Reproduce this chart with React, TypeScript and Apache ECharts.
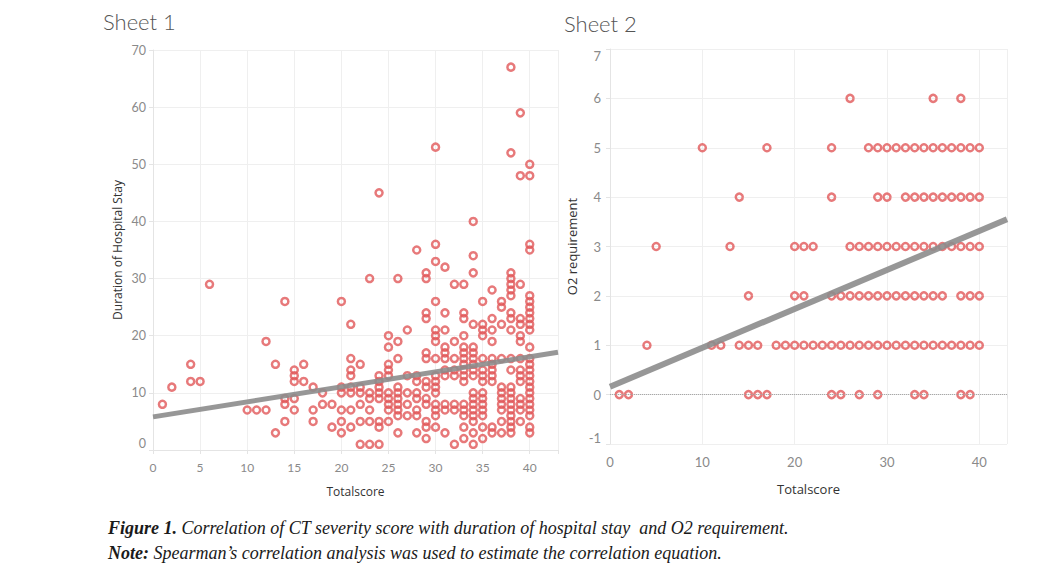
import React, { useEffect, useRef } from "react";
import * as echarts from "echarts";

// Sheet 1: Duration of hospital stay by Totalscore (score -> stay values)
const stayByScore: [number, number[]][] = [
  [1, [8]],
  [2, [11]],
  [4, [15, 12]],
  [5, [12]],
  [6, [29]],
  [10, [7]],
  [11, [7]],
  [12, [19, 7]],
  [13, [15, 3]],
  [14, [26, 9, 8, 5]],
  [15, [14, 13, 12, 9, 7]],
  [16, [15, 12]],
  [17, [11, 7, 5]],
  [18, [10, 8]],
  [19, [8, 4]],
  [20, [26, 11, 10, 7, 5, 3]],
  [21, [22, 16, 14, 13, 11, 10, 7, 4]],
  [22, [15, 11, 10, 8, 5, 1]],
  [23, [30, 10, 9, 7, 5, 1]],
  [24, [45, 13, 12, 11, 10, 9, 5, 4, 1]],
  [25, [20, 18, 15, 14, 13, 10, 9, 8, 7, 5]],
  [26, [30, 19, 16, 11, 10, 9, 8, 7, 6, 3]],
  [27, [21, 13, 10, 8, 6]],
  [28, [35, 13, 12, 10, 9, 7, 6, 3]],
  [29, [31, 30, 24, 23, 17, 16, 12, 11, 9, 8, 5, 4, 2]],
  [30, [53, 36, 33, 26, 21, 20, 19, 16, 13, 12, 11, 10, 8, 7, 6, 4]],
  [31, [32, 24, 21, 18, 17, 16, 14, 13, 8, 7, 3]],
  [32, [29, 19, 16, 14, 13, 8, 7, 1]],
  [33, [29, 24, 23, 20, 18, 17, 16, 15, 14, 13, 12, 8, 7, 6, 4, 2]],
  [34, [40, 34, 31, 22, 18, 17, 16, 15, 14, 13, 10, 9, 8, 7, 6, 5, 3, 1]],
  [35, [26, 22, 21, 20, 16, 14, 13, 12, 10, 9, 8, 7, 6, 4, 2]],
  [36, [28, 23, 21, 19, 16, 15, 14, 13, 12, 4, 3]],
  [37, [26, 25, 22, 16, 11, 10, 9, 8, 7, 5, 3]],
  [38, [67, 52, 31, 30, 29, 28, 27, 24, 23, 21, 16, 14, 11, 10, 9, 8, 7, 6, 5, 4, 3]],
  [39, [59, 48, 29, 23, 22, 20, 19, 16, 14, 13, 12, 9, 8, 7, 5]],
  [40, [50, 48, 36, 35, 27, 26, 25, 24, 23, 22, 21, 18, 16, 15, 14, 13, 12, 11, 10, 9, 8, 7, 6, 4, 3]],
];
const stayTrend: number[][] = [[0, 5.8], [43, 17.1]];

// Sheet 2: scores observed at each O2 requirement level
const o2Level0 = [1, 2, 15, 16, 17, 24, 25, 27, 29, 33, 34, 38, 39];
const o2Level1 = [4, 11, 12, 14, 15, 16, 18, 19, 20, 21, 22, 23, 24, 25, 26, 27, 28, 29, 30, 31, 32, 33, 34, 35, 36, 37, 38, 39, 40];
const o2Level2 = [15, 20, 21, 24, 25, 26, 27, 28, 29, 30, 31, 32, 33, 34, 35, 36, 38, 39, 40];
const o2Level3 = [5, 13, 20, 21, 22, 26, 27, 28, 29, 30, 31, 32, 33, 34, 35, 36, 37, 38, 39, 40];
const o2Level4 = [14, 24, 29, 30, 32, 33, 34, 35, 36, 37, 38, 39, 40];
const o2Level5 = [10, 17, 24, 28, 29, 30, 31, 32, 33, 34, 35, 36, 37, 38, 39, 40];
const o2Level6 = [26, 35, 38];
const o2Trend: number[][] = [[0, 0.16], [43, 3.55]];

const RED = "#e15759";
const LABEL = "#8a8a8a";
const GRID = "#efefef";
const FONT = "Lato, 'Open Sans', sans-serif";

export default function App() {
  const ref = useRef<HTMLDivElement>(null);

  useEffect(() => {
    if (!ref.current) return;
    const chart = echarts.init(ref.current, undefined, { renderer: "svg" });

    const stayPoints = stayByScore.flatMap(([x, ys]) => ys.map((y) => [x, y]));
    const o2Rows = [o2Level0, o2Level1, o2Level2, o2Level3, o2Level4, o2Level5, o2Level6];
    const o2Points = o2Rows.flatMap((xs, level) => xs.map((x) => [x, level]));

    const marker = {
      symbol: "circle",
      symbolSize: 7,
      itemStyle: { color: "rgba(255,255,255,0)", borderColor: RED, borderWidth: 2.5 },
    };

    const baseAxis = (fontSize: number) => ({
      axisLine: { show: true, lineStyle: { color: "#e4e4e4", width: 1 } },
      axisTick: { show: true, length: 4, lineStyle: { color: "#e4e4e4" } },
      splitLine: { show: true, lineStyle: { color: GRID, width: 1 } },
      axisLabel: { color: LABEL, fontSize, fontFamily: FONT },
      nameTextStyle: { color: "#333", fontSize: fontSize, fontFamily: "'Open Sans', sans-serif" },
    });

    const hideExtra = (step: number) => (v: number) =>
      Math.abs(v / step - Math.round(v / step)) < 1e-6 ? String(v) : "";

    const captionFont = "italic 18px 'Liberation Serif', 'Times New Roman', serif";
    const boldRich = {
      b: { fontWeight: "bold", fontStyle: "italic", fontSize: 18, fontFamily: "'Liberation Serif', serif", fill: "#1a1a1a" },
    };

    chart.setOption({
      animation: false,
      title: [
        {
          text: "Sheet 1",
          left: 103,
          top: 10,
          padding: 0,
          textStyle: { color: "#555", fontSize: 22, fontWeight: 300, fontFamily: FONT },
        },
        {
          text: "Sheet 2",
          left: 564,
          top: 12,
          padding: 0,
          textStyle: { color: "#555", fontSize: 22, fontWeight: 300, fontFamily: FONT },
        },
      ],
      grid: [
        { left: 153, top: 50, width: 405, height: 400, containLabel: false, outerBoundsMode: "none" },
        { left: 610, top: 49, width: 397, height: 395, containLabel: false, outerBoundsMode: "none" },
      ],
      xAxis: [
        {
          ...baseAxis(12),
          type: "value",
          gridIndex: 0,
          min: 0,
          max: 43,
          interval: 5,
          name: "Totalscore",
          nameLocation: "middle",
          nameGap: 35,
          axisLabel: { color: LABEL, fontSize: 12, fontFamily: FONT, margin: 11, formatter: hideExtra(5) },
        },
        {
          ...baseAxis(13),
          type: "value",
          gridIndex: 1,
          min: 0,
          max: 43,
          interval: 10,
          name: "Totalscore",
          nameLocation: "middle",
          nameGap: 38,
          axisLabel: { color: LABEL, fontSize: 13, fontFamily: FONT, margin: 11, formatter: hideExtra(10) },
        },
      ],
      yAxis: [
        {
          ...baseAxis(12),
          type: "value",
          gridIndex: 0,
          min: 0,
          max: 70,
          interval: 10,
          name: "Duration of Hospital Stay",
          nameLocation: "middle",
          nameGap: 30,
          axisLabel: {
            color: LABEL,
            fontSize: 12.5,
            fontFamily: FONT,
            margin: 7,
            verticalAlignMinLabel: "bottom",
          },
        },
        {
          ...baseAxis(13),
          type: "value",
          gridIndex: 1,
          min: -1,
          max: 7,
          interval: 1,
          name: "O2 requirement",
          nameLocation: "middle",
          nameGap: 32,
          axisLabel: {
            color: LABEL,
            fontSize: 13,
            fontFamily: FONT,
            margin: 9,
            verticalAlignMinLabel: "bottom",
            verticalAlignMaxLabel: "top",
            padding: [0, 0, 0, 0],
          },
        },
      ],
      series: [
        {
          type: "scatter",
          xAxisIndex: 0,
          yAxisIndex: 0,
          data: stayPoints,
          ...marker,
          z: 2,
        },
        {
          type: "line",
          xAxisIndex: 0,
          yAxisIndex: 0,
          data: stayTrend,
          symbol: "none",
          lineStyle: { color: "#8c8c8c", width: 5, opacity: 0.9 },
          z: 3,
        },
        {
          type: "scatter",
          xAxisIndex: 1,
          yAxisIndex: 1,
          data: o2Points,
          ...marker,
          z: 2,
          markLine: {
            silent: true,
            symbol: "none",
            label: { show: false },
            lineStyle: { type: "dotted", color: "#a8a8a8", width: 1 },
            data: [{ yAxis: 0 }],
          },
        },
        {
          type: "line",
          xAxisIndex: 1,
          yAxisIndex: 1,
          data: o2Trend,
          symbol: "none",
          lineStyle: { color: "#8c8c8c", width: 6, opacity: 0.9 },
          z: 3,
        },
      ],
      graphic: [
        {
          type: "text",
          left: 108,
          top: 519,
          style: {
            text: "{b|Figure 1.} Correlation of CT severity score with duration of hospital stay  and O2 requirement.",
            fill: "#1a1a1a",
            font: captionFont,
            rich: boldRich,
          },
        },
        {
          type: "text",
          left: 108,
          top: 544,
          style: {
            text: "{b|Note:} Spearman\u2019s correlation analysis was used to estimate the correlation equation.",
            fill: "#1a1a1a",
            font: captionFont,
            rich: boldRich,
          },
        },
      ],
    });

    return () => chart.dispose();
  }, []);

  return (
    <div
      ref={ref}
      style={{ position: "absolute", left: 0, top: 0, width: 1055, height: 578, background: "#fff" }}
    />
  );
}
